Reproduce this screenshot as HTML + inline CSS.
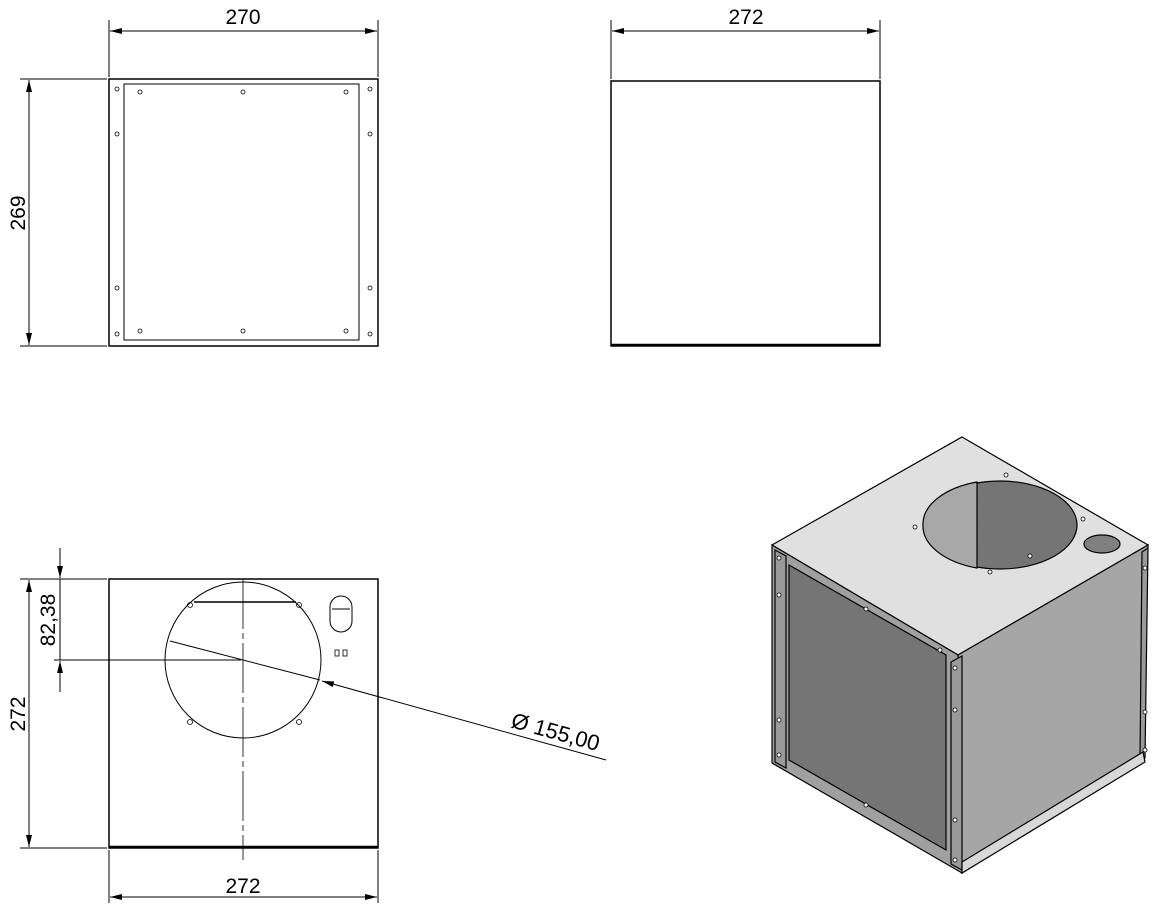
<!DOCTYPE html>
<html><head><meta charset="utf-8"><style>
html,body{margin:0;padding:0;background:#fff;}
svg{display:block;font-family:"Liberation Sans",sans-serif;}
</style></head><body>
<svg width="1161" height="909" viewBox="0 0 1161 909" xmlns="http://www.w3.org/2000/svg">
<defs>
<marker id="a" viewBox="0 0 12 6" refX="12" refY="3" markerWidth="12" markerHeight="6" orient="auto-start-reverse" markerUnits="userSpaceOnUse"><path d="M0,0 L12,3 L0,6 z" fill="#000"/></marker>
</defs>
<g stroke="#000" fill="none" stroke-width="1">
<!-- View 1 -->
<line x1="109" y1="20" x2="109" y2="77"/><line x1="378" y1="20" x2="378" y2="77"/>
<line x1="110" y1="31" x2="377" y2="31" marker-start="url(#a)" marker-end="url(#a)"/>
<line x1="20" y1="79" x2="107" y2="79"/><line x1="20" y1="346" x2="107" y2="346"/>
<line x1="29" y1="80" x2="29" y2="345" marker-start="url(#a)" marker-end="url(#a)"/>
<rect x="109" y="79" width="269" height="267" stroke-width="1.5"/>
<rect x="124" y="84" width="235" height="256"/>
<g stroke-width="0.8">
<circle cx="140" cy="92" r="2"/><circle cx="243" cy="92" r="2"/><circle cx="346" cy="92" r="2"/>
<circle cx="140" cy="331" r="2"/><circle cx="243" cy="331" r="2"/><circle cx="346" cy="331" r="2"/>
<circle cx="117" cy="89" r="2"/><circle cx="370" cy="89" r="2"/><circle cx="117" cy="134" r="2"/><circle cx="370" cy="134" r="2"/>
<circle cx="117" cy="288" r="2"/><circle cx="370" cy="288" r="2"/><circle cx="117" cy="334" r="2"/><circle cx="370" cy="334" r="2"/>
</g>
<!-- View 2 -->
<line x1="611" y1="20" x2="611" y2="79"/><line x1="880" y1="20" x2="880" y2="79"/>
<line x1="612" y1="31" x2="879" y2="31" marker-start="url(#a)" marker-end="url(#a)"/>
<rect x="611" y="81" width="269" height="265" stroke-width="1.5"/>
<line x1="611" y1="345" x2="880" y2="345" stroke-width="2.5"/>
<!-- View 3 -->
<rect x="109" y="579" width="269" height="269" stroke-width="1.5"/>
<line x1="109" y1="847" x2="378" y2="847" stroke-width="2.5"/>
<line x1="243" y1="579" x2="243" y2="860" stroke-width="0.8" stroke-dasharray="50,4,6,4"/>
<circle cx="243" cy="660" r="78"/>
<line x1="194" y1="602" x2="296" y2="602" stroke-width="1.5"/>
<g stroke-width="0.8">
<circle cx="190" cy="605" r="2.5"/><circle cx="299" cy="605" r="2.5"/><circle cx="190" cy="722" r="2.5"/><circle cx="299" cy="722" r="2.5"/>
<rect x="335" y="650" width="4" height="6"/><rect x="343" y="650" width="4" height="6"/>
</g>
<path d="M330,607 a11,11 0 0 1 22,0 v14 a11,11 0 0 1 -22,0 z"/>
<line x1="332" y1="609" x2="350" y2="609"/>
<line x1="20" y1="579" x2="107" y2="579"/><line x1="20" y1="848" x2="107" y2="848"/>
<line x1="29" y1="580" x2="29" y2="847" marker-start="url(#a)" marker-end="url(#a)"/>
<line x1="54" y1="660" x2="241" y2="660"/>
<line x1="60" y1="548" x2="60" y2="578" marker-end="url(#a)"/>
<line x1="60" y1="692" x2="60" y2="661" marker-end="url(#a)"/>
<line x1="60" y1="579" x2="60" y2="660"/>
<line x1="109" y1="850" x2="109" y2="903"/><line x1="378" y1="850" x2="378" y2="903"/>
<line x1="110" y1="897" x2="377" y2="897" marker-start="url(#a)" marker-end="url(#a)"/>
<line x1="170" y1="641" x2="320" y2="680"/>
<line x1="606" y1="760" x2="322" y2="681" marker-end="url(#a)"/>
</g>
<g font-size="21" fill="#000">
<text x="243" y="24" text-anchor="middle">270</text>
<text x="746" y="24" text-anchor="middle">272</text>
<text x="243" y="893" text-anchor="middle">272</text>
<text transform="translate(25,213) rotate(-90)" text-anchor="middle">269</text>
<text transform="translate(25,714) rotate(-90)" text-anchor="middle">272</text>
<text transform="translate(55,620) rotate(-90)" text-anchor="middle">82,38</text>
<text transform="translate(510,727) rotate(15.5)" font-size="22">Ø 155,00</text>
</g>
<!-- Isometric -->
<g stroke="#000" stroke-width="1.2">
<polygon points="962,437 1148,545 958,655 772,545" fill="#e0e0e0"/>
<polygon points="958,655 1148,545 1143,760 962,873" fill="#a6a6a6"/>
<polygon points="772,545 958,655 962,873 772,763" fill="#a0a0a0"/>
<polygon points="789,565 946,655 946,850 789,760" fill="#747574"/>
<polygon points="775,550 786,556 786,768 775,762" fill="#9a9a9a"/>
<polygon points="951,662 962,656 962,870 951,864" fill="#9a9a9a"/>
<polygon points="1142,552 1148,548 1145,758 1140,760" fill="#9a9a9a"/>
<polygon points="962,862 1143,752 1145,762 962,873" fill="#d8d8d8"/>
<ellipse cx="1000" cy="525" rx="77" ry="44" fill="#747574"/>
<path d="M977,482 L977,568 A77,44 0 0 1 923,525 A77,44 0 0 1 977,482 z" fill="#a8a8a8"/>
<ellipse cx="1102" cy="544" rx="18" ry="9" fill="#808080"/>
</g>
<g fill="#fff" stroke="#000" stroke-width="0.8">
<circle cx="1006" cy="475" r="2"/><circle cx="915" cy="527" r="2"/><circle cx="1083" cy="519" r="2"/><circle cx="990" cy="572" r="2"/><circle cx="1030" cy="556" r="2"/>
<circle cx="779" cy="558" r="2"/><circle cx="779" cy="595" r="2"/><circle cx="779" cy="720" r="2"/><circle cx="779" cy="755" r="2"/>
<circle cx="955" cy="668" r="2"/><circle cx="955" cy="710" r="2"/><circle cx="955" cy="820" r="2"/><circle cx="955" cy="860" r="2"/>
<circle cx="1145" cy="568" r="2"/><circle cx="1145" cy="712" r="2"/><circle cx="1145" cy="750" r="2"/>
<circle cx="866" cy="609" r="2"/><circle cx="866" cy="805" r="2"/><circle cx="940" cy="650" r="2"/>
</g>
</svg>
</body></html>
